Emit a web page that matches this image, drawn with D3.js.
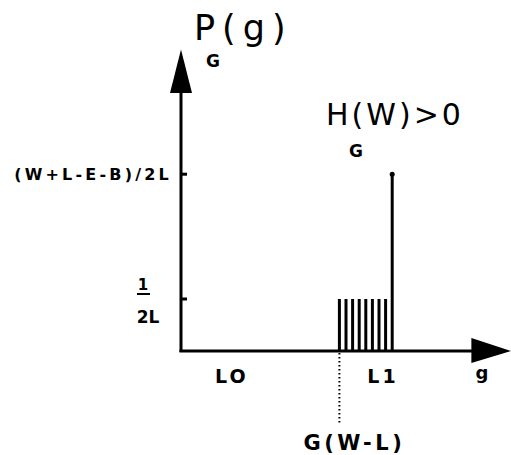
<!DOCTYPE html>
<html>
<head>
<meta charset="utf-8">
<script src="https://cdn.jsdelivr.net/npm/d3@7/dist/d3.min.js"></script>
<style>
  html, body { margin: 0; padding: 0; background: #fff; }
  text { font-family: "DejaVu Sans", sans-serif; fill: #000; }
</style>
</head>
<body>
<svg id="chart" width="511" height="455"></svg>
<script>
// Probability mass of g: a run of equal small masses from G(W-L) up to L1,
// and one larger mass sitting at L1.
const runG = [24, 25, 26, 27, 28, 29, 30, 31];
const runP = [1, 1, 1, 1, 1, 1, 1, 1];
const peakG = [32];
const peakP = [3.4];
const yTickVals = [1, 3.4];
const xMarks = [
  { g: 7.7, label: "LO" },
  { g: 30.6, label: "L1" }
];
const gwlG = 24;

const svg = d3.select("#chart");
const x = d3.scaleLinear().domain([0, 50]).range([181, 511]);
const y = d3.scaleLinear().domain([0, 5.8]).range([351, 49.4]);

const ink = "#000";

// Axes with arrowheads
svg.append("line")
  .attr("x1", x(0)).attr("x2", x(0))
  .attr("y1", y(0) + 1).attr("y2", y(5.0))
  .attr("stroke", ink).attr("stroke-width", 3);
svg.append("path")
  .attr("d", `M${x(0) - 11},${y(5.0) + 2} L${x(0)},${y(5.8)} L${x(0) + 11},${y(5.0) + 2} Z`)
  .attr("fill", ink);

svg.append("line")
  .attr("x1", x(0) - 1.5).attr("x2", x(44.5))
  .attr("y1", y(0)).attr("y2", y(0))
  .attr("stroke", ink).attr("stroke-width", 3);
svg.append("path")
  .attr("d", `M${x(44)},${y(0) - 13} L${x(50)},${y(0)} L${x(44)},${y(0) + 12} Z`)
  .attr("fill", ink);

// Y ticks
svg.selectAll("line.ytick").data(yTickVals).enter().append("line")
  .attr("class", "ytick")
  .attr("x1", x(0)).attr("x2", x(0) + 6)
  .attr("y1", d => y(d)).attr("y2", d => y(d))
  .attr("stroke", ink).attr("stroke-width", 3);

// Run of small masses
svg.selectAll("line.run").data(runG).enter().append("line")
  .attr("class", "run")
  .attr("x1", d => x(d)).attr("x2", d => x(d))
  .attr("y1", y(0)).attr("y2", (d, i) => y(runP[i]))
  .attr("stroke", ink).attr("stroke-width", 3);

// Peak at L1
svg.selectAll("line.peak").data(peakG).enter().append("line")
  .attr("class", "peak")
  .attr("x1", d => x(d)).attr("x2", d => x(d))
  .attr("y1", y(0)).attr("y2", (d, i) => y(peakP[i]))
  .attr("stroke", ink).attr("stroke-width", 3);
svg.selectAll("circle.peak").data(peakG).enter().append("circle")
  .attr("class", "peak")
  .attr("cx", d => x(d)).attr("cy", (d, i) => y(peakP[i]))
  .attr("r", 2.5).attr("fill", ink);

// Dotted guide down to G(W-L)
svg.append("line")
  .attr("x1", x(gwlG)).attr("x2", x(gwlG))
  .attr("y1", y(0) + 2).attr("y2", 423)
  .attr("stroke", ink).attr("stroke-width", 2)
  .attr("stroke-dasharray", "1.5,2.5");
svg.append("text")
  .attr("x", x(gwlG) + 15).attr("y", 450)
  .attr("text-anchor", "middle")
  .attr("font-size", 21).attr("font-weight", "bold").attr("letter-spacing", 3.5)
  .text("G(W-L)");

// X labels
svg.selectAll("text.xmark").data(xMarks).enter().append("text")
  .attr("class", "xmark")
  .attr("x", d => x(d.g)).attr("y", 383)
  .attr("text-anchor", "middle")
  .attr("font-size", 19).attr("font-weight", "bold").attr("letter-spacing", 3)
  .text(d => d.label);
svg.append("text")
  .attr("x", 482).attr("y", 379)
  .attr("text-anchor", "middle")
  .attr("font-size", 18).attr("font-weight", "bold")
  .text("g");

// Y tick labels
svg.append("text")
  .attr("x", 172).attr("y", y(3.4) + 6)
  .attr("text-anchor", "end")
  .attr("font-size", 16).attr("font-weight", "bold").attr("letter-spacing", 3.2)
  .text("(W+L-E-B)/2L");
svg.append("text")
  .attr("x", 143).attr("y", 290)
  .attr("text-anchor", "middle")
  .attr("font-size", 15).attr("font-weight", "bold")
  .text("1");
svg.append("line")
  .attr("x1", 137).attr("x2", 150)
  .attr("y1", 294).attr("y2", 294)
  .attr("stroke", ink).attr("stroke-width", 2);
svg.append("text")
  .attr("x", 148).attr("y", 323)
  .attr("text-anchor", "middle")
  .attr("font-size", 17).attr("font-weight", "bold")
  .text("2L");

// Titles
svg.append("text")
  .attr("x", 194).attr("y", 40)
  .attr("font-size", 35).attr("letter-spacing", 7)
  .text("P(g)");
svg.append("text")
  .attr("x", 206).attr("y", 67)
  .attr("font-size", 17).attr("font-weight", "bold")
  .text("G");
svg.append("text")
  .attr("x", 326).attr("y", 125)
  .attr("font-size", 30).attr("letter-spacing", 3)
  .text("H(W)>0");
svg.append("text")
  .attr("x", 349).attr("y", 157)
  .attr("font-size", 17).attr("font-weight", "bold")
  .text("G");
</script>
</body>
</html>
